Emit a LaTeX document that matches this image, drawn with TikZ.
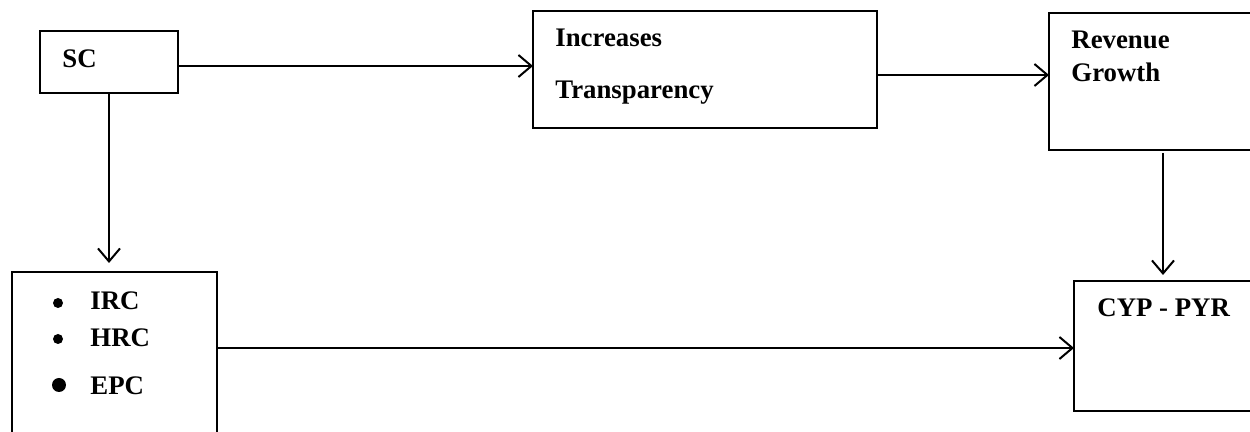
\documentclass[tikz,border=0pt]{standalone}
\usepackage{fontspec}
\setmainfont{Liberation Serif}
\usetikzlibrary{arrows.meta}
\begin{document}
\begin{tikzpicture}[x=0.5pt,y=-0.5pt,
  box/.style={draw, line width=1pt, anchor=north west, inner sep=0pt, outer sep=0pt},
  lbl/.style={anchor=base west, inner sep=0pt, font=\bfseries\fontsize{13.4}{16}\selectfont},
  bul/.style={circle, fill, inner sep=0pt, minimum size=5pt},
  arr/.style={line width=1pt, -{Straight Barb[length=6.5pt,width=11pt]}}]
\useasboundingbox (0,0) rectangle (1250,432);
% boxes
\node[box, minimum width=69pt, minimum height=31pt] (sc) at (40,31) {};
\node[box, minimum width=172pt, minimum height=58.5pt] (inc) at (533,11) {};
\node[box, minimum width=105.5pt, minimum height=68.5pt] (rev) at (1049,13) {};
\node[box, minimum width=102.5pt, minimum height=84pt] (irc) at (12,272) {};
\node[box, minimum width=93pt, minimum height=65pt] (cyp) at (1074,281) {};
% labels
\node[lbl] (tsc) at (62,68) {SC};
\node[lbl] (tinc1) at (555,47) {Increases};
\node[lbl] (tinc2) at (555,99) {Transparency};
\node[lbl] (trev1) at (1071,49) {Revenue};
\node[lbl] (trev2) at (1071,82) {Growth};
\node[lbl] (tcyp) at (1097,317) {CYP - PYR};
\node[bul] (b1) at (58,303) {};
\node[lbl] (t1) at (90,310) {IRC};
\node[bul] (b2) at (58,339) {};
\node[lbl] (t2) at (90,347) {HRC};
\node[bul, minimum size=7pt] (b3) at (59,385) {};
\node[lbl] (t3) at (90,395) {EPC};
% connectors
\draw[arr] ([yshift=-2pt]sc.east) -- ([yshift=-2pt]sc.east -| inc.west);
\draw[arr] ([yshift=-2.75pt]inc.east) -- ([yshift=-2.75pt]inc.east -| rev.west);
\draw[arr, shorten >=4.5pt] (sc.south) -- (sc.south |- irc.north);
\draw[arr, shorten >=3pt] ([xshift=4.25pt,yshift=-1.5pt]rev.south) -- ([xshift=4.25pt]rev.south |- cyp.north);
\draw[arr] ([yshift=4pt]irc.east) -- ([yshift=4pt]irc.east -| cyp.west);
\end{tikzpicture}
\end{document}
